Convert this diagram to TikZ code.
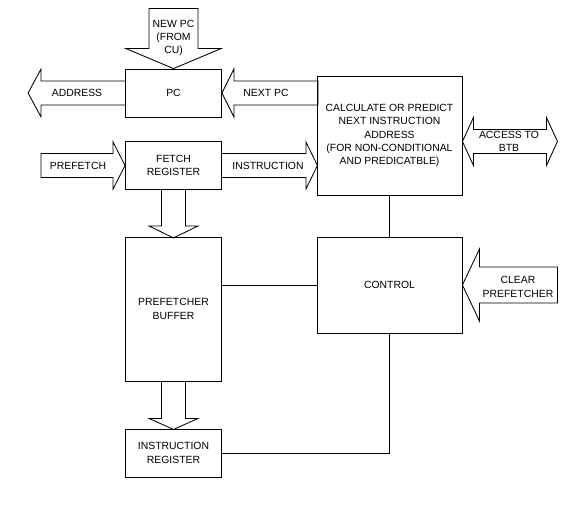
\documentclass[tikz,border=0pt]{standalone}
\usepackage{fontspec}
\setmainfont{Liberation Sans}
\usepackage{tikz}
\usetikzlibrary{calc}

\begin{document}
\begin{tikzpicture}[
        x=0.025cm, y=-0.025cm,
        line width=0.6pt,
        every node/.style={
            font=\fontsize{7.4}{9.5}\selectfont,
            align=center,
            inner sep=0pt
        },
        box/.style={
            draw,
            minimum width=2.4cm,
            minimum height=1.2cm
        },
        bigbox/.style={
            draw,
            minimum width=3.625cm
        },
        blockarrow/.style={
            draw,
            line join=miter
        }
    ]

    \useasboundingbox (0,0) rectangle (582,505);

    \node[box] (pc) at (173.5,93) {PC};

    \node[box] (fetch) at (173.5,165.5) {FETCH\\ REGISTER};

    \node[bigbox, minimum height=2.975cm] (calc) at (389.5,135.5)
    {CALCULATE OR PREDICT\\ NEXT INSTRUCTION\\ ADDRESS\\ (FOR NON-CONDITIONAL\\ AND PREDICATBLE)};

    \node[box, minimum height=3.6cm] (buffer) at (173.5,309) {PREFETCHER\\ BUFFER};

    \node[bigbox, minimum height=2.4cm] (control) at (389.5,285) {CONTROL};

    \node[box] (ir) at (173.5,453) {INSTRUCTION\\ REGISTER};

    \draw[blockarrow] (pc.north) -- ++(-47.5,-20) -- ++(23,0) -- ++(0,-40)
        -- ++(49,0) -- ++(0,40) -- ++(23,0) -- cycle;
    \node (newpc) at (173.5,38) {NEW PC\\ (FROM\\ CU)};

    \draw[blockarrow] (pc.west) ++(0,-12) -- ++(-84,0) -- ++(0,-12) -- ++(-13,24)
        -- ++(13,24) -- ++(0,-12) -- ++(84,0);
    \node (address) at (77,93) {ADDRESS};

    \draw[blockarrow] (pc.east) -- ++(12,-24) -- ++(0,12) -- ++(84,0) -- ++(0,24)
        -- ++(-84,0) -- ++(0,12) -- cycle;
    \node (nextpc) at (266,93) {NEXT PC};

    \draw[blockarrow] (fetch.west) -- ++(-12,-23.5) -- ++(0,11.5) -- ++(-72,0)
        -- ++(0,24) -- ++(72,0) -- ++(0,11.5) -- cycle;
    \node (prefetch) at (78,165.5) {PREFETCH};

    \draw[blockarrow] (fetch.east) ++(0,-12) -- ++(84,0) -- ++(0,-11.5) -- ++(11.5,23.5)
        -- ++(-11.5,23.5) -- ++(0,-11.5) -- ++(-84,0);
    \node (instr) at (268,165.5) {INSTRUCTION};

    \draw[blockarrow] ($(calc.east)+(0,6)$) -- ++(11,-24) -- ++(0,12) -- ++(73,0)
        -- ++(0,-12) -- ++(11,24) -- ++(-11,24) -- ++(0,-12) -- ++(-73,0)
        -- ++(0,12) -- cycle;
    \node (btb) at (509,141.5) {ACCESS TO\\ BTB};

    \draw[blockarrow] (fetch.south) ++(-12,0) -- ++(0,36) -- ++(-12.5,0) -- ++(24.5,12)
        -- ++(24.5,-12) -- ++(-12.5,0) -- ++(0,-36);

    \draw[blockarrow] (buffer.south) ++(-12,0) -- ++(0,37) -- ++(-12.5,0) -- ++(24.5,11)
        -- ++(24.5,-11) -- ++(-12.5,0) -- ++(0,-37);

    \draw[blockarrow] (control.east) -- ++(17,-36) -- ++(0,18) -- ++(78,0) -- ++(0,36)
        -- ++(-78,0) -- ++(0,18) -- cycle;
    \node (clear) at (518,287) {CLEAR\\ PREFETCHER};

    \draw (calc) -- (control);
    \draw (control.west) -- (control.west -| buffer.east);
    \draw (ir.east) -| (control.south);

\end{tikzpicture}
\end{document}
